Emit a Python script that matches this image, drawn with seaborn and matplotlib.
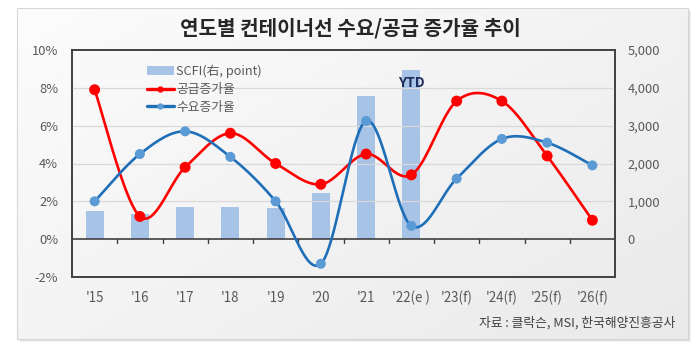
import numpy as np
import pandas as pd
import matplotlib
matplotlib.use("Agg")
import matplotlib.pyplot as plt
import seaborn as sns
from matplotlib.patches import Rectangle, Patch
from matplotlib.lines import Line2D
from matplotlib.ticker import FuncFormatter

# ---- data -------------------------------------------------------------
years = ["'15", "'16", "'17", "'18", "'19", "'20", "'21", "'22(e )",
         "'23(f)", "'24(f)", "'25(f)", "'26(f)"]
supply_growth = [7.9, 1.2, 3.8, 5.6, 4.0, 2.9, 4.5, 3.4, 7.3, 7.3, 4.4, 1.0]
demand_growth = [2.0, 4.5, 5.7, 4.35, 2.0, -1.3, 6.25, 0.7, 3.2, 5.3, 5.1, 3.9]
scfi = [740, 660, 850, 850, 820, 1230, 3780, 4470,
        np.nan, np.nan, np.nan, np.nan]
left_ticks = [-2, 0, 2, 4, 6, 8, 10]
right_ticks = [0, 1000, 2000, 3000, 4000, 5000]

W, H = 700, 343
sns.set_theme(style="white")
plt.rcParams["font.family"] = ["Noto Sans CJK KR", "DejaVu Sans"]

RED = "#FF0000"
BLUE_LINE = "#1F6FB8"
BLUE_MARK = "#5B9BD5"
BAR = "#A7C3E6"
TXT = "#595959"
EDGE = "#404040"


def smooth(values, steps=40):
    """Bezier smoothing through every point (cardinal spline, tension 1/6)."""
    y = np.asarray(values, float)
    x = np.arange(len(y), dtype=float)
    p = np.column_stack([x, y])
    p = np.vstack([p[0], p, p[-1]])
    t = np.linspace(0, 1, steps)[:, None]
    out = []
    for i in range(1, len(p) - 2):
        p0, p3 = p[i], p[i + 1]
        c1 = p0 + (p[i + 1] - p[i - 1]) / 6.0
        c2 = p3 - (p[i + 2] - p[i]) / 6.0
        seg = ((1 - t) ** 3) * p0 + 3 * ((1 - t) ** 2) * t * c1 \
            + 3 * (1 - t) * t ** 2 * c2 + t ** 3 * p3
        out.append(seg if i == 1 else seg[1:])
    seg = np.vstack(out)
    return seg[:, 0], seg[:, 1]


fig = plt.figure(figsize=(W / 100, H / 100), dpi=100)
fig.patch.set_facecolor("white")

# ---- card background with shadow and soft gradient -------------------
bg = fig.add_axes([0, 0, 1, 1], zorder=-10)
bg.axis("off")
for k, a in enumerate([0.10, 0.16, 0.24]):
    off = 3 - k
    bg.add_patch(Rectangle((17 + off, 8 + off), 671, 331, facecolor="#808080",
                           alpha=a, edgecolor="none"))
gx, gy = np.meshgrid(np.linspace(0, 1, 200), np.linspace(0, 1, 100))
grad = 0.55 * gx + 0.45 * gy
bg.imshow(grad, extent=(17, 688, 339, 8), cmap=matplotlib.colors.LinearSegmentedColormap.from_list(
    "card", ["#FCFCFC", "#EAEAEA"]), aspect="auto", zorder=1)
bg.add_patch(Rectangle((17, 8), 671, 331, facecolor="none", edgecolor="#D6D6D6",
                       lw=0.8, zorder=2))
bg.set_xlim(0, W)
bg.set_ylim(H, 0)

# ---- main axes ---------------------------------------------------------
L, R, T, B = 72, 615, 50, 277
ax = fig.add_axes([L / W, 1 - B / H, (R - L) / W, (B - T) / H])
ax2 = ax.twinx()
ax.set_zorder(ax2.get_zorder() + 1)
ax.patch.set_visible(False)
ax2.patch.set_visible(False)

# SCFI bars on the right axis
bar_df = pd.DataFrame({"year": years, "scfi": scfi})
sns.barplot(data=bar_df.dropna(), x="year", y="scfi", order=years, ax=ax2,
            color=BAR, width=0.4, saturation=1, edgecolor="none")
ax2.set_ylim(-1000, 5000)
ax2.set_yticks(right_ticks)
ax2.yaxis.set_major_formatter(FuncFormatter(lambda v, _: f"{int(v):,}"))
ax2.set_ylabel("")
ax2.set_xlabel("")

# grid lines
for g in [2, 4, 6, 8]:
    ax.axhline(g, color="#D9D9D9", lw=0.9, zorder=0)
ax.axhline(0, color=EDGE, lw=1.2, zorder=1)
for b in np.arange(0.5, len(years) - 1, 1.0):
    ax.plot([b, b], [0, -0.22], color=EDGE, lw=1.0, zorder=1)

# smoothed growth lines with markers
for vals, lc, mc, ms in [(supply_growth, RED, RED, 62),
                         (demand_growth, BLUE_LINE, BLUE_MARK, 52)]:
    sx, sy = smooth(vals)
    sns.lineplot(x=sx, y=sy, sort=False, estimator=None, color=lc, lw=1.9,
                 ax=ax, zorder=3)
    sns.scatterplot(x=np.arange(len(vals)), y=vals, color=mc, s=ms,
                    edgecolor="none", ax=ax, zorder=4)

ax.set_xlim(-0.5, len(years) - 0.5)
ax2.set_xlim(-0.5, len(years) - 0.5)
ax.set_ylim(-2, 10)
ax.set_yticks(left_ticks)
ax.yaxis.set_major_formatter(FuncFormatter(lambda v, _: f"{int(v)}%"))
ax.set_xticks(range(len(years)))
ax.set_xticklabels(years)

for a in (ax, ax2):
    for s in a.spines.values():
        s.set_color(EDGE)
        s.set_linewidth(1.2)
    a.tick_params(length=0, colors=TXT, labelsize=9.3)
ax.tick_params(axis="y", pad=10)
ax2.tick_params(axis="y", pad=9)
ax.tick_params(axis="x", pad=10, labelsize=9.6)
ax2.tick_params(axis="x", labelbottom=False)

ax.text(7, 8.25, "YTD", ha="center", va="center", fontsize=10,
        fontweight="bold", color="#1F2D5A", zorder=5)

handles = [
    Patch(facecolor=BAR, edgecolor="none"),
    Line2D([], [], color=RED, lw=2.4, marker="o", markersize=3.5),
    Line2D([], [], color=BLUE_LINE, lw=2.4, marker="o", markersize=3.5,
           markerfacecolor=BLUE_MARK, markeredgecolor=BLUE_MARK),
]
leg = ax.legend(handles, ["SCFI(右, point)", "공급증가율", "수요증가율"],
                loc="upper left", bbox_to_anchor=(0.138, 0.935), frameon=False,
                fontsize=9.2, handlelength=2.1, handletextpad=0.2,
                labelspacing=0.38, borderpad=0, borderaxespad=0)
for t in leg.get_texts():
    t.set_color(TXT)

fig.text(350 / W, 1 - 28 / H, "연도별 컨테이너선 수요/공급 증가율 추이",
         ha="center", va="center", fontsize=14.5, fontweight="bold", color="#262626")
fig.text(675 / W, 1 - 323 / H, "자료 : 클락슨, MSI, 한국해양진흥공사",
         ha="right", va="center", fontsize=9.2, color="#404040")

fig.savefig("out.png", dpi=100)
